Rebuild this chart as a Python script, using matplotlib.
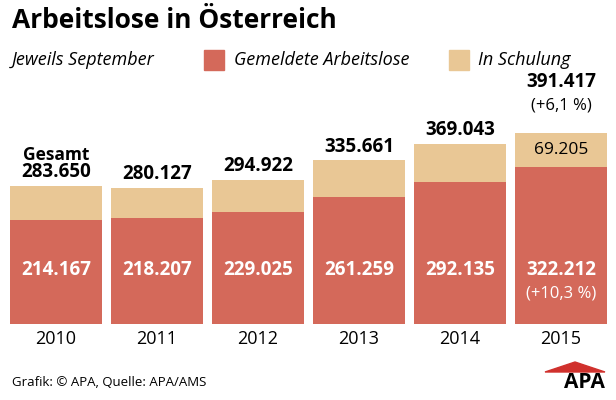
import matplotlib.pyplot as plt

years = ["2010", "2011", "2012", "2013", "2014", "2015"]
gemeldet = [214167, 218207, 229025, 261259, 292135, 322212]
schulung = [69483, 61920, 65897, 74402, 76908, 69205]
gesamt = [283650, 280127, 294922, 335661, 369043, 391417]

red = "#d4695a"
tan = "#e9c795"
plt.rcParams["font.family"] = "Open Sans"

def fmt(v):
    return f"{v:,}".replace(",", ".")

fig = plt.figure(figsize=(6.16, 4.0), dpi=100)
ax = fig.add_axes([0, 0.19, 1, 0.81])
x = list(range(len(years)))
ax.bar(x, gemeldet, width=0.91, color=red)
ax.bar(x, schulung, bottom=gemeldet, width=0.91, color=tan)
ax.set_xlim(-0.554, 5.545)
ax.set_ylim(0, 665000)
ax.axis("off")

for i, y in enumerate(years):
    ax.text(i, -12000, y, ha="center", va="top", fontsize=13)
    ax.text(i, 110000, fmt(gemeldet[i]), ha="center", va="center",
            fontsize=13.5, fontweight="bold", color="white")
    if i < 5:
        ax.text(i, gesamt[i] + 8000, fmt(gesamt[i]), ha="center", va="bottom",
                fontsize=13.5, fontweight="bold")
ax.text(0, gesamt[0] + 44000, "Gesamt", ha="center", va="bottom",
        fontsize=12.5, fontweight="bold")
ax.text(5, gesamt[5] + 40000, "(+6,1 %)", ha="center", va="bottom", fontsize=12)
ax.text(5, gesamt[5] + 84000, fmt(gesamt[5]), ha="center", va="bottom",
        fontsize=13.5, fontweight="bold")
ax.text(5, gemeldet[5] + schulung[5] / 2, fmt(schulung[5]), ha="center",
        va="center", fontsize=12.5)
ax.text(5, 62000, "(+10,3 %)", ha="center", va="center", fontsize=12, color="white")

fig.text(12 / 616, 1 - 20 / 400, "Arbeitslose in Österreich", fontsize=19,
         fontweight="bold", va="center")
fig.text(12 / 616, 1 - 60 / 400, "Jeweils September", fontsize=13,
         style="italic", va="center")
fig.patches.append(plt.Rectangle((204 / 616, 1 - 70 / 400), 20 / 616, 20 / 400,
                                 color=red, transform=fig.transFigure))
fig.text(234 / 616, 1 - 60 / 400, "Gemeldete Arbeitslose", fontsize=13,
         style="italic", va="center")
fig.patches.append(plt.Rectangle((449 / 616, 1 - 70 / 400), 20 / 616, 20 / 400,
                                 color=tan, transform=fig.transFigure))
fig.text(478 / 616, 1 - 60 / 400, "In Schulung", fontsize=13,
         style="italic", va="center")
fig.text(12 / 616, 1 - 383 / 400, "Grafik: © APA, Quelle: APA/AMS", fontsize=9.5,
         va="center")
fig.text(605 / 616, 1 - 383 / 400, "APA", fontsize=15, fontweight="bold",
         ha="right", va="center")
fig.patches.append(plt.Polygon([(545 / 616, 1 - 372 / 400), (575 / 616, 1 - 362 / 400),
                                (605 / 616, 1 - 372 / 400)], color="#d0312d",
                               transform=fig.transFigure))
fig.savefig("out.png", dpi=100)
